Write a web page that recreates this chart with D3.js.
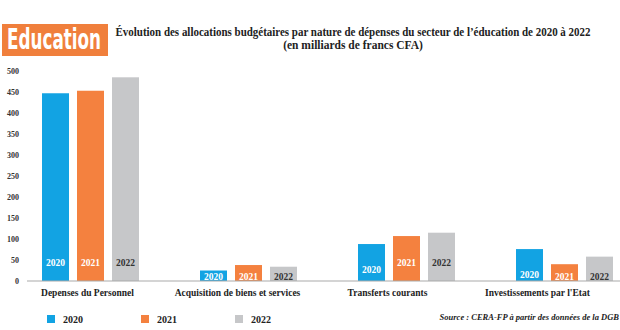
<!DOCTYPE html>
<html>
<head>
<meta charset="utf-8">
<script src="https://cdn.jsdelivr.net/npm/d3@7"></script>
<style>
  body { margin: 0; background: #fff; }
  svg { display: block; }
</style>
</head>
<body>
<svg></svg>
<script>
// data
let categories = ['Depenses du Personnel', 'Acquisition de biens et services', 'Transferts courants', "Investissements par l'Etat"]
let years = ['2020', '2021', '2022']
let values2020 = [447, 25, 88, 76]
let values2021 = [453, 38, 107, 40]
let values2022 = [485, 34, 115, 58]
let yTicks = [0, 50, 100, 150, 200, 250, 300, 350, 400, 450, 500]

let colors = { '2020': '#12a3e3', '2021': '#f4813f', '2022': '#c6c7c9' }
let labelColors = { '2020': '#fff', '2021': '#fff', '2022': '#333' }

let width = 620
let height = 330
let serif = '"Liberation Serif", "Times New Roman", "DejaVu Serif", serif'

let svg = d3.select('svg')
svg.attr('width', width).attr('height', height)

// small helper so every text gets the serif bold font inline
let txt = (sel, size) => sel
    .style('font-family', serif)
    .style('font-weight', 'bold')
    .style('font-size', size + 'px')

// header box
svg.append('rect')
    .attr('x', 2).attr('y', 24)
    .attr('width', 106).attr('height', 32)
    .attr('fill', '#f07f3c')
svg.append('text')
    .attr('x', 7).attr('y', 49)
    .attr('textLength', 94)
    .attr('lengthAdjust', 'spacingAndGlyphs')
    .style('font-family', '"Liberation Sans Narrow", "DejaVu Sans Condensed", sans-serif')
    .style('font-weight', 'bold')
    .style('font-size', '28px')
    .attr('fill', '#fff')
    .text('Education')

// title
txt(svg.append('text'), 11.5)
    .attr('x', 353).attr('y', 36)
    .attr('text-anchor', 'middle')
    .attr('textLength', 475)
    .attr('lengthAdjust', 'spacingAndGlyphs')
    .attr('fill', '#222')
    .text('Évolution des allocations budgétaires par nature de dépenses du secteur de l’éducation de 2020 à 2022')
txt(svg.append('text'), 11.5)
    .attr('x', 353).attr('y', 49)
    .attr('text-anchor', 'middle')
    .attr('fill', '#222')
    .text('(en milliards de francs CFA)')

// scales
let x0 = d3.scaleBand().domain(categories).range([11.5, 643.5])
let x1 = d3.scaleBand().domain(years).range([-48.5, 48.5]).paddingInner(8 / 35)
// category labels sit on their own, slightly tighter spacing
let xLabel = d3.scaleBand().domain(categories).range([12.5, 612.5])
let y = d3.scaleLinear().domain([0, 500]).range([281, 71])

let rows = []
categories.forEach((c, i) => {
    rows.push({ cat: c, year: '2020', value: values2020[i] })
    rows.push({ cat: c, year: '2021', value: values2021[i] })
    rows.push({ cat: c, year: '2022', value: values2022[i] })
})
let cx = d => x0(d.cat) + x0.bandwidth() / 2 + x1(d.year)

// y axis
let yAxis = d3.axisLeft(y).tickValues(yTicks).tickSize(0).tickPadding(0)
let gy = svg.append('g')
    .attr('transform', 'translate(19,0)')
    .call(yAxis)
gy.select('.domain').remove()
txt(gy.selectAll('text'), 8)
    .attr('fill', '#333')

// bars
svg.selectAll('rect.bar')
    .data(rows)
    .enter()
    .append('rect')
    .attr('class', 'bar')
    .attr('x', d => cx(d))
    .attr('y', d => y(d.value))
    .attr('width', x1.bandwidth())
    .attr('height', d => y(0) - y(d.value))
    .attr('fill', d => colors[d.year])

// baseline
svg.append('line')
    .attr('x1', 27).attr('x2', width)
    .attr('y1', y(0)).attr('y2', y(0))
    .attr('stroke', '#a9a9a9').attr('stroke-width', 1)

// labels inside bars (inside base, pushed up on the tall bars)
txt(svg.selectAll('text.lbl')
    .data(rows)
    .enter()
    .append('text'), 9.5)
    .attr('class', 'lbl')
    .attr('x', d => cx(d) + x1.bandwidth() / 2)
    .attr('y', d => Math.max(y(0) - 19, Math.min(y(d.value) + 25, y(0) - 5)) + 3.5)
    .attr('text-anchor', 'middle')
    .attr('fill', d => labelColors[d.year])
    .text(d => d.year)

// category labels
txt(svg.selectAll('text.cat')
    .data(categories)
    .enter()
    .append('text'), 9.5)
    .attr('class', 'cat')
    .attr('x', d => xLabel(d) + xLabel.bandwidth() / 2)
    .attr('y', 296)
    .attr('text-anchor', 'middle')
    .attr('fill', '#222')
    .text(d => d)

// legend
let legendX = d3.scalePoint().domain(years).range([47, 235])
let lg = svg.selectAll('g.legend')
    .data(years)
    .enter()
    .append('g')
    .attr('class', 'legend')
    .attr('transform', d => 'translate(' + legendX(d) + ',315)')
lg.append('rect')
    .attr('width', 8).attr('height', 8)
    .attr('fill', d => colors[d])
txt(lg.append('text'), 10)
    .attr('x', 16).attr('y', 8)
    .attr('fill', '#222')
    .text(d => d)

// source
txt(svg.append('text'), 8.5)
    .attr('x', 619).attr('y', 320)
    .attr('text-anchor', 'end')
    .style('font-style', 'italic')
    .attr('fill', '#222')
    .text('Source : CERA-FP à partir des données de la DGB')
</script>
</body>
</html>
